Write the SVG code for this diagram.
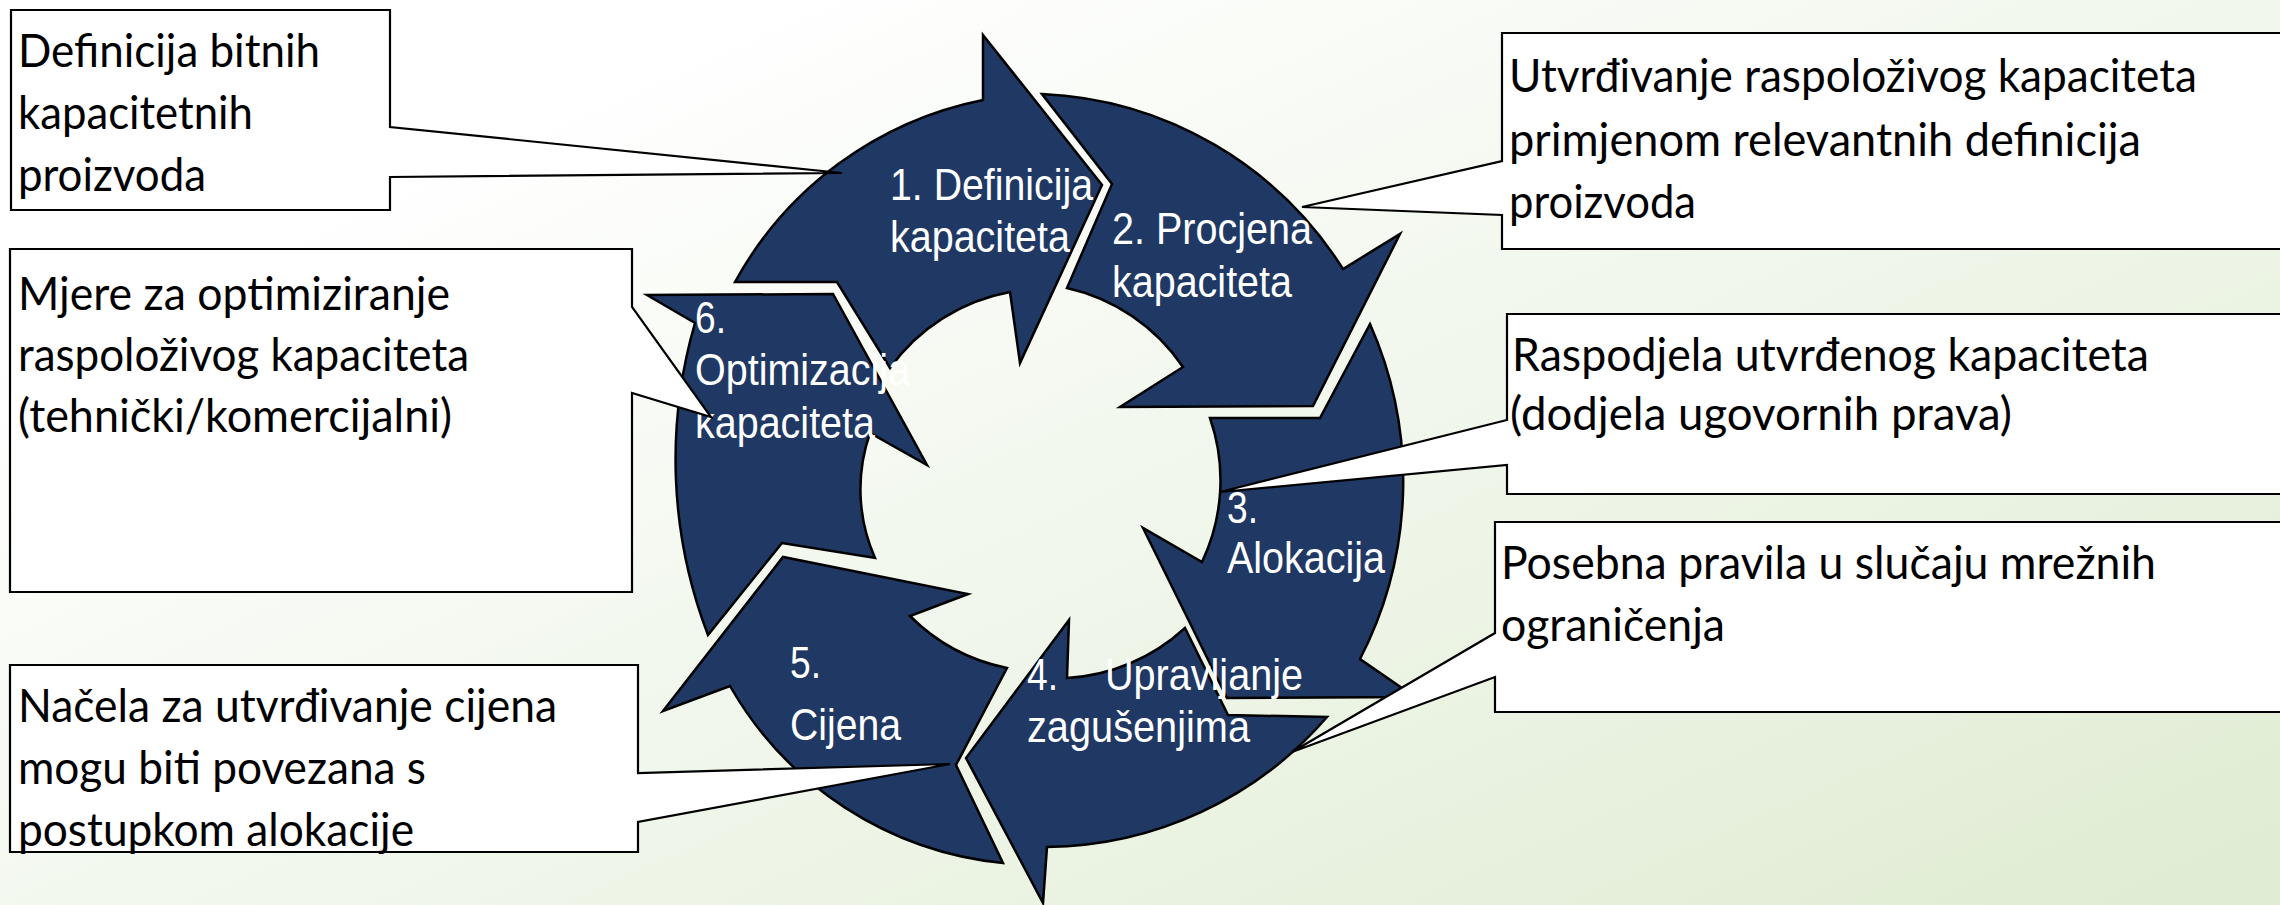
<svg xmlns="http://www.w3.org/2000/svg" width="2280" height="905" viewBox="0 0 2280 905">
<defs>
<linearGradient id="bg" x1="0.15" y1="0.2" x2="1" y2="0.95">
<stop offset="0" stop-color="#ffffff"/>
<stop offset="0.45" stop-color="#f1f7ec"/>
<stop offset="1" stop-color="#e0ecd3"/>
</linearGradient>
</defs>
<style>
.arrow{fill:#203864;stroke:#000;stroke-width:2.5;stroke-linejoin:miter}
.call{fill:#fff;stroke:#000;stroke-width:2.2;stroke-linejoin:miter}
.lbl{font-family:"Liberation Sans",Arial,sans-serif;font-size:44px;fill:#fff}
.txt{font-family:Lato,"Open Sans",sans-serif;font-size:46px;fill:#000}
</style>
<rect x="0" y="0" width="2280" height="905" fill="url(#bg)"/>

<g id="arrow1"><path class="arrow" d="M735,282 A365,365 0 0 1 983,100 L983,35 L1102,185 L1020,363 L1010,292 A190,190 0 0 0 890,368 L837,282 Z"/>
<text class="lbl"><tspan x="890" y="200" textLength="203" lengthAdjust="spacingAndGlyphs">1. Definicija</tspan><tspan x="890" y="252" textLength="180" lengthAdjust="spacingAndGlyphs">kapaciteta</tspan></text></g>

<g id="arrow2"><path class="arrow" d="M1042,94 A375,375 0 0 1 1343,269 L1400,234 L1313,406 L1120,407 L1183,367 A190,190 0 0 0 1067,288 L1112,184 Z"/>
<text class="lbl"><tspan x="1112" y="244" textLength="200" lengthAdjust="spacingAndGlyphs">2. Procjena</tspan><tspan x="1112" y="297" textLength="180" lengthAdjust="spacingAndGlyphs">kapaciteta</tspan></text></g>

<g id="arrow3"><path class="arrow" d="M1370,324 A388,388 0 0 1 1360,659 L1415,697 L1227,698 L1143,528 L1202,562 A190,190 0 0 0 1210,418 L1320,418 Z"/>
<text class="lbl"><tspan x="1227" y="523" textLength="31" lengthAdjust="spacingAndGlyphs">3.</tspan><tspan x="1227" y="573" textLength="158" lengthAdjust="spacingAndGlyphs">Alokacija</tspan></text></g>

<g id="arrow4"><path class="arrow" d="M1327,717 A375,375 0 0 1 1047,847 L1043,903 L966,758 L1069,620 L1067,678 A190,190 0 0 0 1185,628 L1228,715 Z"/>
<text class="lbl"><tspan x="1027" y="690" textLength="31" lengthAdjust="spacingAndGlyphs">4.</tspan><tspan x="1105" y="690" textLength="198" lengthAdjust="spacingAndGlyphs">Upravljanje</tspan><tspan x="1027" y="742" textLength="223" lengthAdjust="spacingAndGlyphs">zagušenjima</tspan></text></g>

<g id="arrow5"><path class="arrow" d="M1003,863 A355,355 0 0 1 730,686 L663,711 L783,557 L968,594 L910,616 A190,190 0 0 0 1007,668 L956,765 Z"/>
<text class="lbl"><tspan x="790" y="678" textLength="31" lengthAdjust="spacingAndGlyphs">5.</tspan><tspan x="790" y="740" textLength="111" lengthAdjust="spacingAndGlyphs">Cijena</tspan></text></g>

<g id="arrow6"><path class="arrow" d="M708,635 A490,490 0 0 1 695,323 L647,295 L833,294 L927,465 L870,433 A170,170 0 0 0 875,558 L782,543 Z"/>
<text class="lbl"><tspan x="695" y="333" textLength="31" lengthAdjust="spacingAndGlyphs">6.</tspan><tspan x="695" y="385" textLength="215" lengthAdjust="spacingAndGlyphs">Optimizacija</tspan><tspan x="695" y="438" textLength="180" lengthAdjust="spacingAndGlyphs">kapaciteta</tspan></text></g>

<g id="callout1"><path class="call" d="M11,10 H390 V127 L842,173 L390,177 V210 H11 Z"/>
<text class="txt"><tspan x="18" y="67" textLength="302" lengthAdjust="spacingAndGlyphs">Definicija bitnih</tspan><tspan x="18" y="129" textLength="235" lengthAdjust="spacingAndGlyphs">kapacitetnih</tspan><tspan x="18" y="191" textLength="188" lengthAdjust="spacingAndGlyphs">proizvoda</tspan></text></g>

<g id="callout2"><path class="call" d="M1502,33 H2292 V249 H1502 V215 L1302,207 L1502,161 Z"/>
<text class="txt"><tspan x="1509" y="92" textLength="688" lengthAdjust="spacingAndGlyphs">Utvrđivanje raspoloživog kapaciteta</tspan><tspan x="1509" y="156" textLength="632" lengthAdjust="spacingAndGlyphs">primjenom relevantnih definicija</tspan><tspan x="1509" y="218" textLength="187" lengthAdjust="spacingAndGlyphs">proizvoda</tspan></text></g>

<g id="callout3"><path class="call" d="M1507,314 H2292 V494 H1507 V465 L1220,492 L1507,420 Z"/>
<text class="txt"><tspan x="1512" y="371" textLength="637" lengthAdjust="spacingAndGlyphs">Raspodjela utvrđenog kapaciteta</tspan><tspan x="1510" y="430" textLength="502" lengthAdjust="spacingAndGlyphs">(dodjela ugovornih prava)</tspan></text></g>

<g id="callout4"><path class="call" d="M1495,522 H2292 V712 H1495 V677 L1292,752 L1495,633 Z"/>
<text class="txt"><tspan x="1501" y="579" textLength="655" lengthAdjust="spacingAndGlyphs">Posebna pravila u slučaju mrežnih</tspan><tspan x="1501" y="641" textLength="224" lengthAdjust="spacingAndGlyphs">ograničenja</tspan></text></g>

<g id="callout5"><path class="call" d="M10,249 H632 V307 L711,417 L632,393 V592 H10 Z"/>
<text class="txt"><tspan x="18" y="310" textLength="432" lengthAdjust="spacingAndGlyphs">Mjere za optimiziranje</tspan><tspan x="18" y="371" textLength="451" lengthAdjust="spacingAndGlyphs">raspoloživog kapaciteta</tspan><tspan x="18" y="432" textLength="434" lengthAdjust="spacingAndGlyphs">(tehnički/komercijalni)</tspan></text></g>

<g id="callout6"><path class="call" d="M10,665 H638 V773 L950,764 L638,822 V852 H10 Z"/>
<text class="txt"><tspan x="18" y="722" textLength="539" lengthAdjust="spacingAndGlyphs">Načela za utvrđivanje cijena</tspan><tspan x="18" y="784" textLength="408" lengthAdjust="spacingAndGlyphs">mogu biti povezana s</tspan><tspan x="18" y="846" textLength="396" lengthAdjust="spacingAndGlyphs">postupkom alokacije</tspan></text></g>

<g id="connectors"></g>
</svg>
